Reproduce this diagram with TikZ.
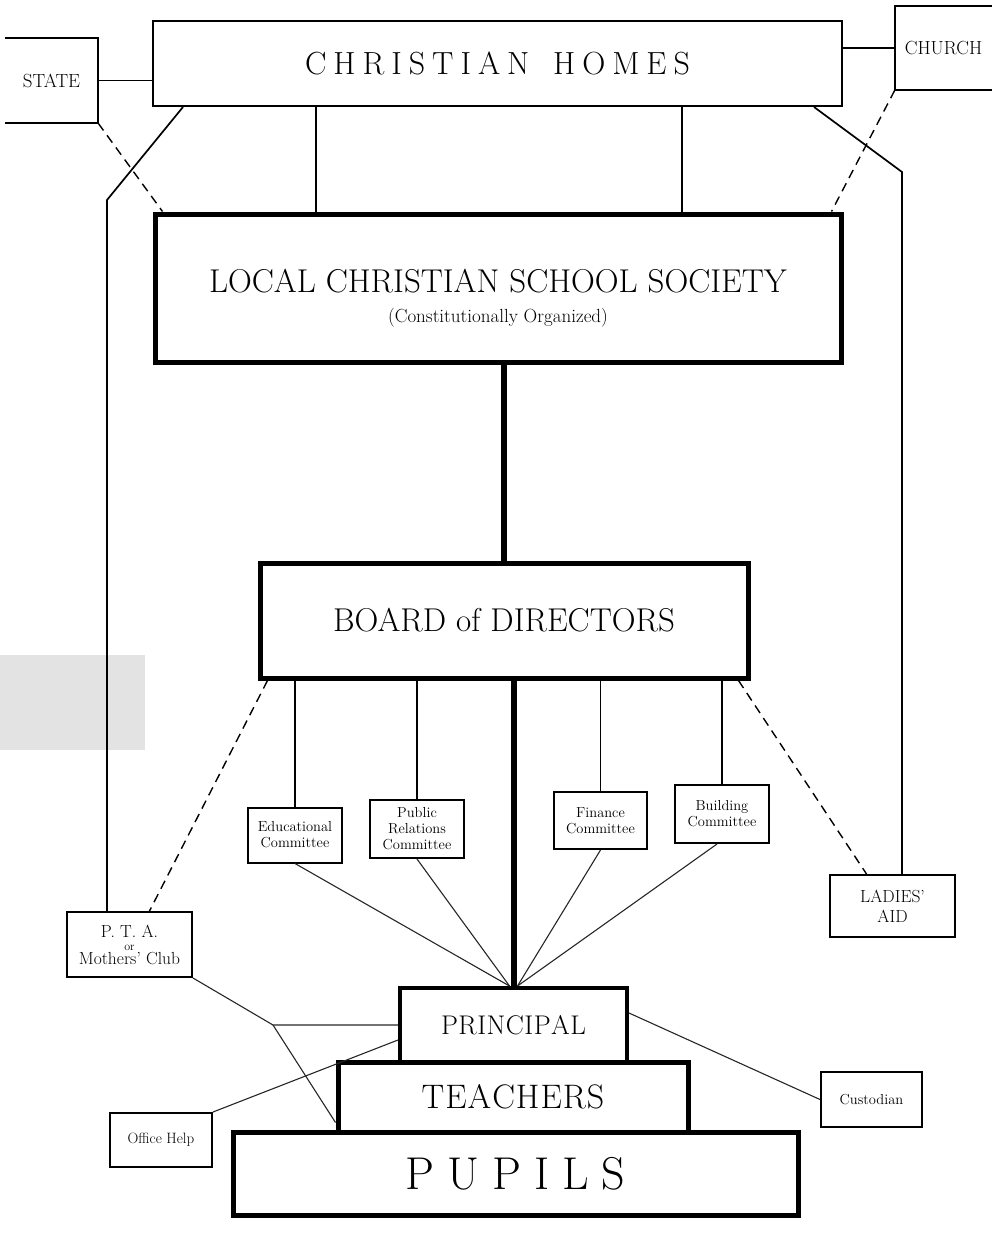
\documentclass[tikz,border=0pt]{standalone}
\usepackage{fontspec}
\usetikzlibrary{calc}
\newdimen\lsk
\def\lsp#1{\kern\lsk\lspA#1\relax}
\def\lspA#1{\ifx#1\relax\else#1\kern\lsk\expandafter\lspA\fi}
\newcommand\fs[2]{\fontsize{#1}{#2}\selectfont}
\begin{document}
\begin{tikzpicture}[x=1pt,y=-1pt,
  thinbox/.style={draw=black, line width=2pt, inner sep=0pt, align=center},
  thickbox/.style={draw=black, line width=5pt, inner sep=0pt, align=center},
  openbox/.style={inner sep=0pt, align=center},
  comm/.style={thinbox, font=\fs{14.5}{16}},
  link/.style={line width=1.7pt},
  fine/.style={line width=1.1pt, draw=black!85},
  dashlink/.style={line width=1.4pt, dash pattern=on 9pt off 6pt},
  trunk/.style={line width=6pt}]
\useasboundingbox (0,0) rectangle (992,1234);
\fill[gray!22] (0,655) rectangle (145,750);

% top row
\node[openbox, font=\fs{19}{22}, minimum width=93pt, minimum height=85pt] (state) at (51.5,80.5) {STATE};
\draw[line width=2pt] (state.north west) -- (state.north east) -- (state.south east) -- (state.south west);
\node[openbox, font=\fs{19}{22}, minimum width=97pt, minimum height=84pt] (church) at (943.5,48) {CHURCH};
\draw[line width=2pt] (church.north east) -- (church.north west) -- (church.south west) -- (church.south east);
\node[thinbox, font=\fs{32}{36}, minimum width=689pt, minimum height=85pt] (homes) at (497.5,63.5)
  {\lsk=7pt\lsp{CHRISTIAN~HOMES}};

% society and board
\node[thickbox, minimum width=686pt, minimum height=148pt] (lcss) at (498,288) {};
\node[inner sep=0pt, font=\fs{33}{38}] (lcssT) at (498,281) {LOCAL CHRISTIAN SCHOOL SOCIETY};
\node[inner sep=0pt, font=\fs{19}{22}] (lcssS) at (498,318) {(Constitutionally Organized)};
\node[thickbox, font=\fs{33}{36}, minimum width=488pt, minimum height=115pt] (board) at (504,620.5)
  {BOARD of DIRECTORS};

% committees
\node[comm, minimum width=94pt, minimum height=55pt] (educ) at (295,835) {Educational\\Committee};
\node[comm, minimum width=94pt, minimum height=58pt] (pr) at (417,829) {Public\\Relations\\Committee};
\node[comm, minimum width=93pt, minimum height=57pt] (fin) at (600.5,820.5) {Finance\\Committee};
\node[comm, minimum width=94pt, minimum height=58pt] (bld) at (722,814) {Building\\Committee};

% side groups
\node[thinbox, font=\fs{17.5}{18}, minimum width=125pt, minimum height=65pt] (pta) at (129.5,944.5)
  {P. T. A.\\[-5pt]{\fs{12}{12}or}\\[-4pt]Mothers' Club};
\node[thinbox, font=\fs{17.5}{20}, minimum width=125pt, minimum height=62pt] (ladies) at (892.5,906)
  {LADIES'\\AID};

% school stack
\node[thickbox, font=\fs{46}{50}, minimum width=565pt, minimum height=83pt] (pupils) at (515.5,1173.5)
  {\lsk=13pt\lsp{PUPILS}};
\node[thickbox, font=\fs{34}{36}, minimum width=350pt, minimum height=70pt] (teachers) at (513,1097)
  {\lsk=1pt\lsp{TEACHERS}};
\node[thickbox, font=\fs{27}{30}, line width=4pt, minimum width=227pt, minimum height=74pt] (principal) at (513.5,1025)
  {\lsk=0.5pt\lsp{PRINCIPAL}};

\node[thinbox, font=\fs{15}{17}, minimum width=102pt, minimum height=54pt] (office) at (161,1140) {Office Help};
\node[thinbox, font=\fs{14.5}{17}, minimum width=101pt, minimum height=55pt] (custodian) at (871.5,1099.5) {Custodian};

% connectors from Christian Homes
\coordinate (hL) at (183,0);
\coordinate (v1) at (316,0);
\coordinate (v2) at (682,0);
\coordinate (hR) at (814,0);
\coordinate (lb) at (107,200);
\coordinate (rb) at (902,172);
\draw[link] (homes.south -| hL) -- (lb) -- (lb |- pta.north);
\draw[link] (homes.south -| hR) -- (rb) -- (rb |- ladies.north);
\draw[link] (homes.south -| v1) -- (lcss.north -| v1);
\draw[link] (homes.south -| v2) -- (lcss.north -| v2);
\draw[link] (state.east) -- (state.east -| homes.west);
\draw[link] (church.west) -- (church.west -| homes.east);
\draw[dashlink] (state.south east) -- ($(lcss.north west)+(10,0)$);
\draw[dashlink] (church.south west) -- ($(lcss.north east)+(-12,0)$);

% trunk
\draw[trunk] (board.north |- lcss.south) -- (board.north);
\draw[trunk] (principal.north |- board.south) -- (principal.north);

% committees
\foreach \c in {educ,pr,fin,bld}
  \draw[link] (\c.north |- board.south) -- (\c.north);
\draw[fine] (educ.south) -- ($(principal.north)+(-4,0)$);
\draw[fine] (pr.south) -- ($(principal.north)+(-4,0)$);
\draw[fine] (fin.south) -- ($(principal.north)+(4,0)$);
\draw[fine] ($(bld.south)+(-5,0)$) -- ($(principal.north)+(4,0)$);

% dashed side links
\draw[dashlink] ($(board.south west)+(10,0)$) -- ($(pta.north)+(20,0)$);
\draw[dashlink] ($(board.south east)+(-12,0)$) -- ($(ladies.north)+(-26,0)$);

% lower links
\coordinate (J) at (273,1025);
\draw[fine] (pta.south east) -- (J) -- (J -| principal.west);
\draw[fine] (J) -- ($(teachers.south west)+(0,-12)$);
\draw[fine] (office.north east) -- ($(principal.west)+(0,15)$);
\draw[fine] (custodian.west) -- ($(principal.east)+(0,-12)$);
\end{tikzpicture}
\end{document}
